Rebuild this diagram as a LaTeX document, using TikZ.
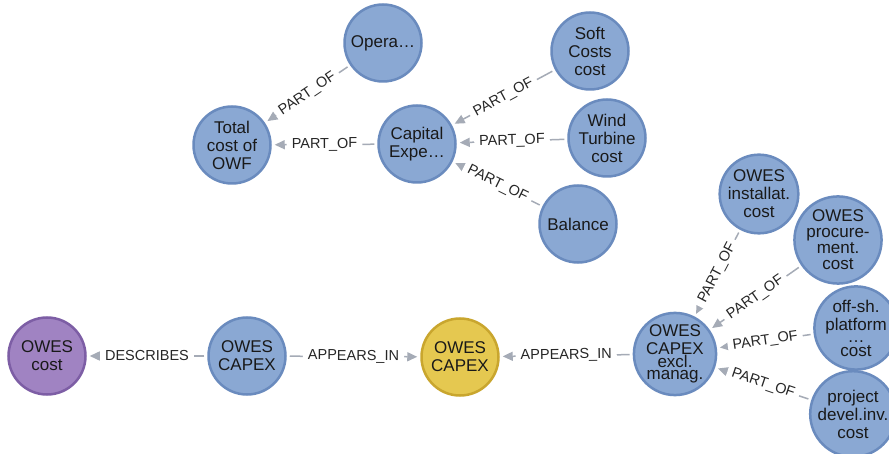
\documentclass[tikz,border=0pt]{standalone}
\usepackage{fontspec}
\setmainfont{Liberation Sans}
\usepackage{xcolor}
\usetikzlibrary{arrows.meta}

\definecolor{nodeblue}{RGB}{138,168,211}
\definecolor{lineblue}{RGB}{106,139,190}
\definecolor{nodepurple}{RGB}{160,131,194}
\definecolor{linepurple}{RGB}{125,94,165}
\definecolor{nodeyellow}{RGB}{229,200,80}
\definecolor{lineyellow}{RGB}{201,166,46}
\definecolor{relgray}{RGB}{165,171,182}

\begin{document}
\begin{tikzpicture}[x=1pt, y=-1pt,
    ent/.style={circle,draw=lineblue,fill=nodeblue,line width=2.5pt,minimum size=77pt,inner sep=0pt,align=center,text=black!90,font=\fontsize{17}{18}\selectfont},
    doc/.style={ent,draw=lineyellow,fill=nodeyellow},
    desc/.style={ent,draw=linepurple,fill=nodepurple},
    rel/.style={draw=relgray,line width=1.5pt,-{Triangle[length=10pt,width=9pt]},shorten <=3pt,shorten >=3pt},
    lbl/.style={midway,sloped,fill=white,inner xsep=5pt,inner ysep=1pt,text=black!85,font=\fontsize{14.5}{16}\selectfont}]
    \useasboundingbox[fill=white] (0,0) rectangle (889,454);
    % nodes
    \node[ent] (opera) at(383,43) {Opera…};
    \node[ent] (total) at(232,145) {Total\\cost of\\OWF};
    \node[ent] (capital) at(417,144) {Capital\\Expe…};
    \node[ent] (soft) at(590,51) {Soft\\Costs\\cost};
    \node[ent] (wind) at(607,138) {Wind\\Turbine\\cost};
    \node[ent] (balance) at(578,224) {Balance};
    \node[ent] (inst) at(759,194) {OWES\\installat.\\cost};
    \node[ent,font=\fontsize{17}{16}\selectfont] (proc) at(838,240) {OWES\\procure-\\ment.\\cost};
    \node[ent] (offsh) at(856,328) {off-sh.\\platform\\[-6pt]…\\[-4pt]cost};
    \node[ent] (proj) at(853,414) {project\\devel.inv.\\cost};
    \node[ent] (excl) at(675,354) {OWES\\CAPEX\\[-5pt]excl.\\[-6pt]manag.};
    \node[desc] (owescost) at(47,356) {OWES\\cost};
    \node[ent] (capex) at(247,356) {OWES\\CAPEX};
    \node[doc] (capexdoc) at(460,357) {OWES\\CAPEX};
    % relations
    \draw[rel] (opera) -- node[lbl] {PART\_OF} (total);
    \draw[rel] (capital) -- node[lbl] {PART\_OF} (total);
    \draw[rel] (soft) -- node[lbl] {PART\_OF} (capital);
    \draw[rel] (wind) -- node[lbl] {PART\_OF} (capital);
    \draw[rel] (balance) -- node[lbl] {PART\_OF} (capital);
    \draw[rel] (inst) -- node[lbl] {PART\_OF} (excl);
    \draw[rel] (proc) -- node[lbl] {PART\_OF} (excl);
    \draw[rel] (offsh) -- node[lbl] {PART\_OF} (excl);
    \draw[rel] (proj) -- node[lbl] {PART\_OF} (excl);
    \draw[rel] (excl) -- node[lbl] {APPEARS\_IN} (capexdoc);
    \draw[rel] (capex) -- node[lbl] {APPEARS\_IN} (capexdoc);
    \draw[rel] (capex) -- node[lbl] {DESCRIBES} (owescost);
\end{tikzpicture}
\end{document}
